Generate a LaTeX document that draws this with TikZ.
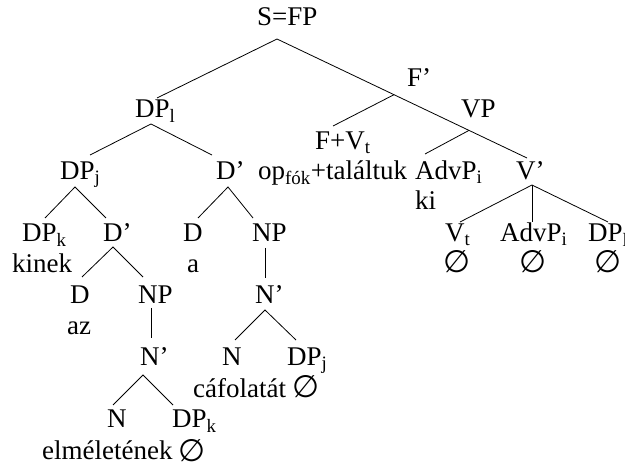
\documentclass[tikz,border=0pt]{standalone}
\usepackage{fontspec}
\usetikzlibrary{calc}
\setmainfont{Liberation Serif}
\newfontfamily\symfont{DejaVu Sans}
\newcommand{\sbs}[1]{\textsubscript{#1}}
\newcommand{\nul}{{\symfont\fontsize{31}{34}\selectfont ∅}}
\begin{document}
\begin{tikzpicture}[x=1pt,y=-1pt,
  lab/.style={inner sep=0pt,anchor=base west,font=\fontsize{27}{31}\selectfont},
  nl/.style={inner sep=0pt,anchor=base},
  br/.style={line width=0.8pt}]
\path[use as bounding box] (0,0) rectangle (625,468);
% labels
\node[lab] (S) at (257,25.5) {S=FP};
\node[lab] (DPl) at (135,118) {DP\sbs{l}};
\node[lab] (Fb) at (407,87) {F’};
\node[lab] (VP) at (461,118) {VP};
\node[lab] (DPj) at (60,180) {DP\sbs{j}};
\node[lab] (Db1) at (216,180) {D’};
\node[lab] (FV) at (315,150) {F+V\sbs{t}};
\node[lab] (op) at (258,180) {op\sbs{fók}+találtuk};
\node[lab] (Adv1) at (415,180) {AdvP\sbs{i}};
\node[lab] (ki) at (415,210) {ki};
\node[lab] (Vb) at (516,180) {V’};
\node[lab] (DPk) at (22,242) {DP\sbs{k}};
\node[lab] (kinek) at (12,273) {kinek};
\node[lab] (Db2) at (103,242) {D’};
\node[lab] (D1) at (183,242) {D};
\node[lab] (a) at (187,273) {a};
\node[lab] (NP1) at (252,242) {NP};
\node[lab] (Vt) at (445,242) {V\sbs{t}};
\node[nl] (e1) at (457,273) {\nul};
\node[lab] (Adv2) at (500,242) {AdvP\sbs{i}};
\node[nl] (e2) at (533,273) {\nul};
\node[lab] (DPl2) at (588,242) {DP\sbs{l}};
\node[nl] (e3) at (608,273) {\nul};
\node[lab] (D2) at (70,304) {D};
\node[lab] (az) at (67,335) {az};
\node[lab] (NP2) at (138,304) {NP};
\node[lab] (Nb1) at (255,304) {N’};
\node[lab] (Nb2) at (140,366) {N’};
\node[lab] (N1) at (222,366) {N};
\node[lab] (DPj2) at (287,366) {DP\sbs{j}};
\node[lab] (caf) at (193,397) {cáfolatát};
\node[nl] (e4) at (306,398) {\nul};
\node[lab] (N2) at (107,428) {N};
\node[lab] (DPk2) at (172,428) {DP\sbs{k}};
\node[lab] (elm) at (42,460) {elméletének};
\node[nl] (e5) at (192,461) {\nul};
% branch points
\coordinate (S-b) at (277,39);
\coordinate (DPl-t) at (157,98);
\coordinate (Vb-t) at (527,158);
\coordinate (Fb-b) at ($(S-b)!0.468!(Vb-t)$);
\coordinate (VP-b) at ($(S-b)!0.768!(Vb-t)$);
\coordinate (FV-t) at (333,126);
\coordinate (Adv1-t) at (425,154);
\coordinate (DPl-b) at (151,124);
\coordinate (DPj-t) at (90,155);
\coordinate (Db1-t) at (212,155);
\coordinate (DPj-b) at (75,187);
\coordinate (DPk-t) at (45,218);
\coordinate (Db2-t) at (106,218);
\coordinate (Db1-b) at (228,187);
\coordinate (D1-t) at (198,218);
\coordinate (NP1-t) at (253,218);
\coordinate (Db2-b) at (113,247);
\coordinate (D2-t) at (82,277);
\coordinate (NP2-t) at (143,277);
\coordinate (NP1-b) at (265,248);
\coordinate (Nb1-t) at (265,278);
\coordinate (NP2-b) at (151,308);
\coordinate (Nb2-t) at (151,338);
\coordinate (Nb1-b) at (265,310);
\coordinate (N1-t) at (235,340);
\coordinate (DPj2-t) at (296,340);
\coordinate (Nb2-b) at (143,375);
\coordinate (N2-t) at (113,405);
\coordinate (DPk2-t) at (173,405);
\coordinate (Vb-b) at (532,185);
\coordinate (Vt-t) at (460,222);
\coordinate (Adv2-t) at (532,222);
\coordinate (DPl2-t) at (608,222);
% branches
\draw[br] (DPl-t) -- (S-b) -- (Vb-t);
\draw[br] (Fb-b) -- (FV-t);
\draw[br] (VP-b) -- (Adv1-t);
\draw[br] (DPj-t) -- (DPl-b) -- (Db1-t);
\draw[br] (DPk-t) -- (DPj-b) -- (Db2-t);
\draw[br] (D1-t) -- (Db1-b) -- (NP1-t);
\draw[br] (D2-t) -- (Db2-b) -- (NP2-t);
\draw[br] (NP1-b) -- (Nb1-t);
\draw[br] (NP2-b) -- (Nb2-t);
\draw[br] (N1-t) -- (Nb1-b) -- (DPj2-t);
\draw[br] (N2-t) -- (Nb2-b) -- (DPk2-t);
\draw[br] (Vt-t) -- (Vb-b) -- (DPl2-t);
\draw[br] (Vb-b) -- (Adv2-t);
\end{tikzpicture}
\end{document}
